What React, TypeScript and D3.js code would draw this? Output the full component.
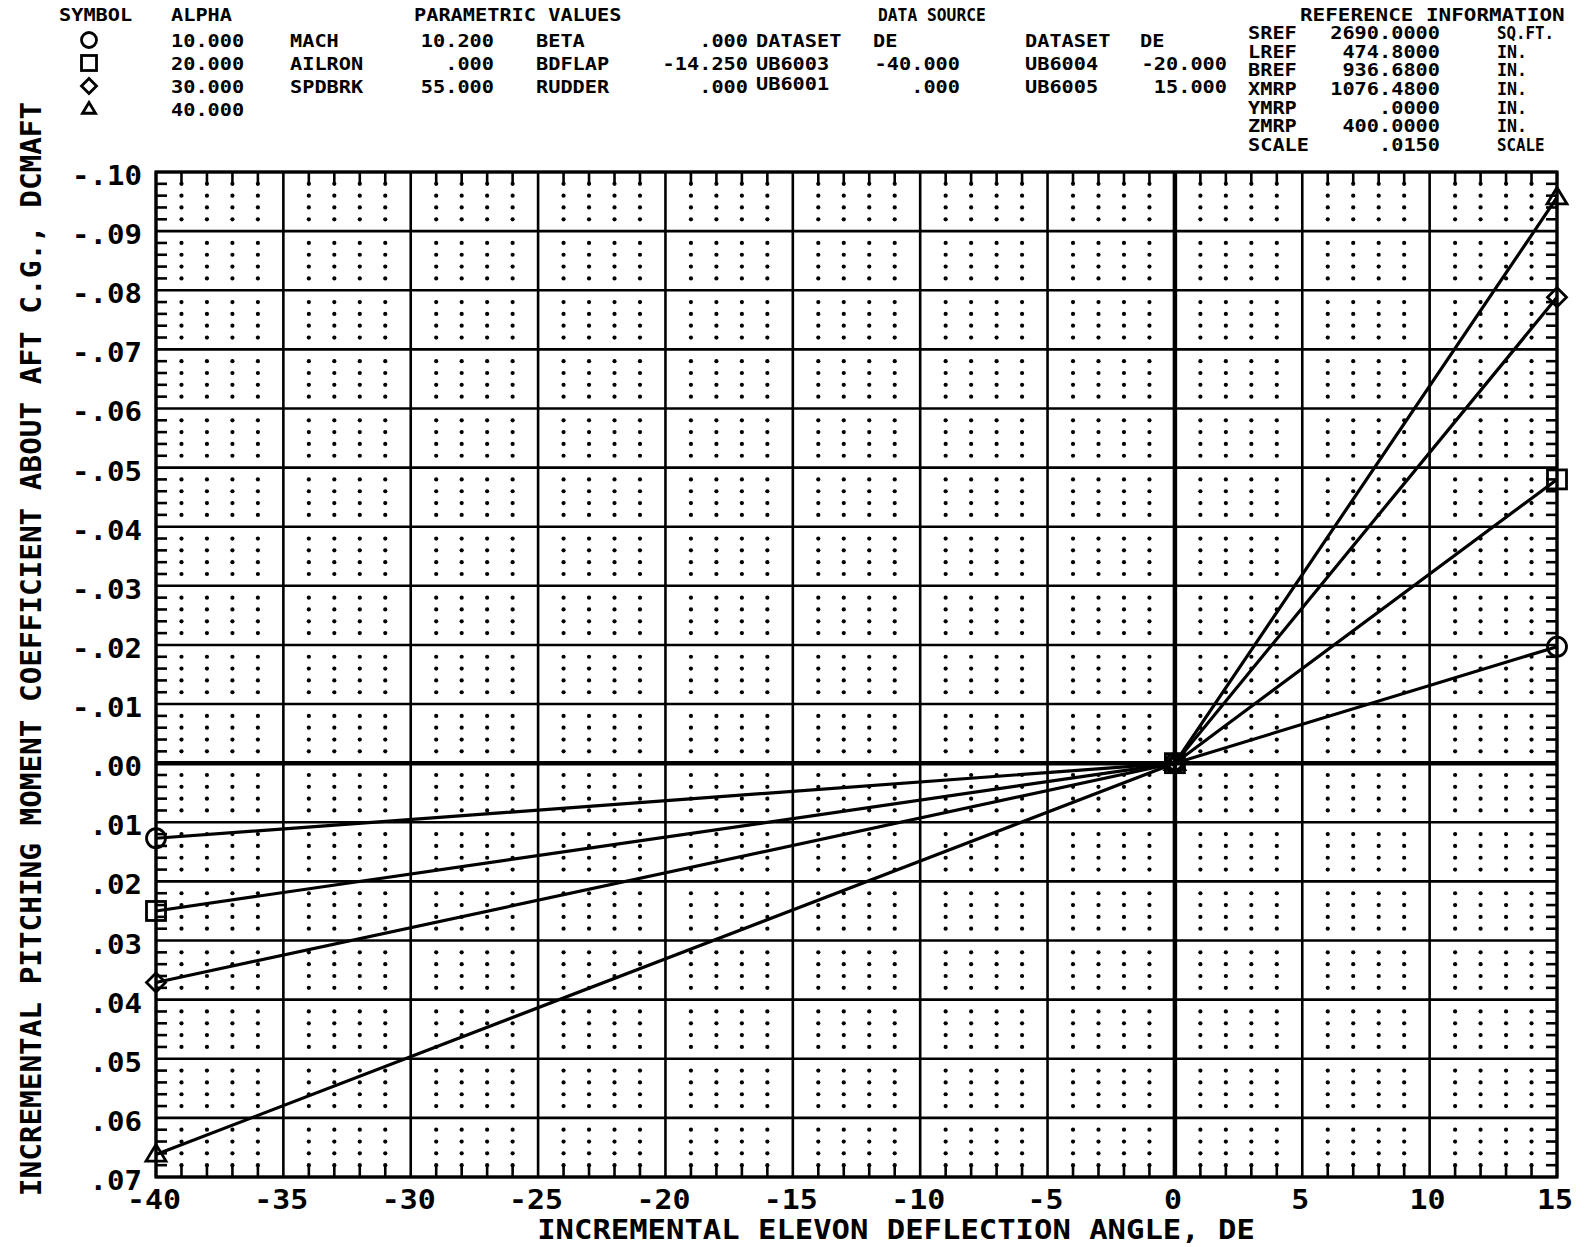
import * as d3 from "d3"

// elevon deflection (deg) at which data points were plotted
const deflection = [-40, 0, 15]

// incremental pitching moment coefficient per alpha
const dcmAlpha10 = [0.0127, 0, -0.0197]
const dcmAlpha20 = [0.025, 0, -0.048]
const dcmAlpha30 = [0.0371, 0, -0.0788]
const dcmAlpha40 = [0.0662, 0, -0.0957]

const seriesValues = [dcmAlpha10, dcmAlpha20, dcmAlpha30, dcmAlpha40]
const seriesSymbols = ["circle", "square", "diamond", "triangle"]
const alphaLabels = ["10.000", "20.000", "30.000", "40.000"]

const xTicks = [-40, -35, -30, -25, -20, -15, -10, -5, 0, 5, 10, 15]
const xTickLabels = ["-40", "-35", "-30", "-25", "-20", "-15", "-10", "-5", "0", "5", "10", "15"]
const yTicks = [-0.1, -0.09, -0.08, -0.07, -0.06, -0.05, -0.04, -0.03, -0.02, -0.01, 0, 0.01, 0.02, 0.03, 0.04, 0.05, 0.06, 0.07]
const yTickLabels = ["-.10", "-.09", "-.08", "-.07", "-.06", "-.05", "-.04", "-.03", "-.02", "-.01", ".00", ".01", ".02", ".03", ".04", ".05", ".06", ".07"]

const paramNames1 = ["MACH", "AILRON", "SPDBRK"]
const paramValues1 = ["10.200", ".000", "55.000"]
const paramNames2 = ["BETA", "BDFLAP", "RUDDER"]
const paramValues2 = [".000", "-14.250", ".000"]
const datasetsA = ["UB6003", "UB6001"]
const datasetDeA = ["-40.000", ".000"]
const datasetsB = ["UB6004", "UB6005"]
const datasetDeB = ["-20.000", "15.000"]
const refNames = ["SREF", "LREF", "BREF", "XMRP", "YMRP", "ZMRP", "SCALE"]
const refValues = ["2690.0000", "474.8000", "936.6800", "1076.4800", ".0000", "400.0000", ".0150"]
const refUnits = ["SQ.FT.", "IN.", "IN.", "IN.", "IN.", "IN.", "SCALE"]

const W = 1596
const H = 1247
const left = 156
const right = 1557
const top = 172
const bottom = 1177
const FONT = "DejaVu Sans Mono"

const x = d3.scaleLinear().domain([-40, 15]).range([left, right])
const y = d3.scaleLinear().domain([-0.1, 0.07]).range([top, bottom])

const minorX = d3.range(-40, 15.001, 1).filter(v => Math.abs(v % 5) > 0.01)
const minorY = d3.range(0, 86).map(i => -0.1 + i * 0.002).filter((_, i) => i % 5 !== 0)

function Txt({ x, y, s, w, size = 17, anchor = "start", weight = "bold" }: any) {
  return (
    <text
      x={x}
      y={y}
      textAnchor={anchor}
      fontFamily={FONT}
      fontWeight={weight}
      fontSize={size}
      textLength={w * s.length}
      lengthAdjust="spacingAndGlyphs"
    >
      {s}
    </text>
  )
}

function Marker({ kind, cx, cy, r }: { kind: string; cx: number; cy: number; r: number }) {
  const common = { fill: "none", stroke: "#000", strokeWidth: 2.8 }
  if (kind === "circle") return <circle cx={cx} cy={cy} r={r} {...common} />
  if (kind === "square") return <rect x={cx - r} y={cy - r} width={2 * r} height={2 * r} {...common} />
  if (kind === "diamond")
    return <path d={`M${cx},${cy - r}L${cx + r},${cy}L${cx},${cy + r}L${cx - r},${cy}Z`} {...common} />
  return <path d={`M${cx},${cy - r}L${cx + r},${cy + r * 0.65}L${cx - r},${cy + r * 0.65}Z`} {...common} />
}

export default function App() {
  const line = d3.line<number>().x((_, i) => x(deflection[i])).y(d => y(d))
  const cw = 12.2
  const rowY = [47, 70, 93, 116]
  const refY = [39, 58, 76, 95, 114, 132, 151]

  return (
    <div style={{ position: "absolute", left: 0, top: 0, background: "#fff" }}>
      <svg width={W} height={H} style={{ display: "block" }}>
        <rect width={W} height={H} fill="#fff" />

        {/* header block */}
        <Txt x={59} y={21} s="SYMBOL" w={cw} />
        <Txt x={171} y={21} s="ALPHA" w={cw} />
        <Txt x={414} y={21} s="PARAMETRIC VALUES" w={cw} />
        <Txt x={878} y={21} s="DATA SOURCE" w={9.8} />
        <Txt x={1300} y={21} s="REFERENCE INFORMATION" w={12.6} />
        {seriesSymbols.map((k, i) => (
          <Marker key={k} kind={k} cx={89} cy={rowY[i] - 7} r={k === "triangle" ? 6.5 : 7.5} />
        ))}
        {alphaLabels.map((a, i) => (
          <Txt key={a} x={171} y={rowY[i]} s={a} w={cw} />
        ))}
        {paramNames1.map((p, i) => (
          <Txt key={p} x={290} y={rowY[i]} s={p} w={cw} />
        ))}
        {paramValues1.map((p, i) => (
          <Txt key={i} x={494} y={rowY[i]} s={p} w={cw} anchor="end" />
        ))}
        {paramNames2.map((p, i) => (
          <Txt key={p} x={536} y={rowY[i]} s={p} w={cw} />
        ))}
        {paramValues2.map((p, i) => (
          <Txt key={i} x={748} y={rowY[i]} s={p} w={cw} anchor="end" />
        ))}
        <Txt x={756} y={rowY[0]} s="DATASET" w={cw} />
        <Txt x={873} y={rowY[0]} s="DE" w={cw} />
        <Txt x={1025} y={rowY[0]} s="DATASET" w={cw} />
        <Txt x={1140} y={rowY[0]} s="DE" w={cw} />
        {datasetsA.map((d, i) => (
          <Txt key={d} x={756} y={rowY[i + 1] - (i === 1 ? 3 : 0)} s={d} w={cw} />
        ))}
        {datasetDeA.map((d, i) => (
          <Txt key={i} x={960} y={rowY[i + 1]} s={d} w={cw} anchor="end" />
        ))}
        {datasetsB.map((d, i) => (
          <Txt key={d} x={1025} y={rowY[i + 1]} s={d} w={cw} />
        ))}
        {datasetDeB.map((d, i) => (
          <Txt key={i} x={1227} y={rowY[i + 1]} s={d} w={cw} anchor="end" />
        ))}
        {refNames.map((n, i) => (
          <Txt key={n} x={1248} y={refY[i]} s={n} w={cw} />
        ))}
        {refValues.map((v, i) => (
          <Txt key={i} x={1440} y={refY[i]} s={v} w={cw} anchor="end" />
        ))}
        {refUnits.map((u, i) => (
          <Txt key={i} x={1497} y={refY[i]} s={u} w={u === "IN." ? 10 : 9.5} />
        ))}

        {/* dotted minor grid */}
        {minorX.map(dx =>
          minorY.map(dy => <circle key={`${dx}_${dy}`} cx={x(dx)} cy={y(dy)} r={2.1} fill="#000" />)
        )}

        {/* major grid */}
        {xTicks.map(t => (
          <line key={`v${t}`} x1={x(t)} x2={x(t)} y1={top} y2={bottom} stroke="#000" strokeWidth={t === 0 ? 4.5 : 2.6} />
        ))}
        {yTicks.map(t => (
          <line key={`h${t}`} x1={left} x2={right} y1={y(t)} y2={y(t)} stroke="#000" strokeWidth={Math.abs(t) < 1e-9 ? 4.5 : 2.6} />
        ))}

        {/* edge ticks */}
        {minorX.map(t => (
          <g key={`tx${t}`} stroke="#000" strokeWidth={2.6}>
            <line x1={x(t)} x2={x(t)} y1={top} y2={top + 12} />
            <line x1={x(t)} x2={x(t)} y1={bottom} y2={bottom - 11} />
          </g>
        ))}
        {minorY.map(t => (
          <g key={`ty${t}`} stroke="#000" strokeWidth={2.6}>
            <line x1={left} x2={left + 11} y1={y(t)} y2={y(t)} />
            <line x1={right} x2={right - 11} y1={y(t)} y2={y(t)} />
          </g>
        ))}
        <rect x={left} y={top} width={right - left} height={bottom - top} fill="none" stroke="#000" strokeWidth={3.2} />

        {/* data */}
        {seriesValues.map((vals, si) => (
          <g key={si}>
            <path d={line(vals) ?? ""} fill="none" stroke="#000" strokeWidth={3.2} />
            {vals.map((v, i) => (
              <Marker key={i} kind={seriesSymbols[si]} cx={x(deflection[i])} cy={y(v)} r={seriesSymbols[si] === "triangle" ? 10 : 9.5} />
            ))}
          </g>
        ))}

        {/* tick labels */}
        {yTicks.map((t, i) => (
          <Txt key={`yl${t}`} x={142} y={y(t) + 13} s={yTickLabels[i]} w={17.5} size={27} anchor="end" />
        ))}
        {xTicks.map((t, i) => (
          <Txt key={`xl${t}`} x={x(t) - 2} y={1209} s={xTickLabels[i]} w={18} size={27} anchor="middle" />
        ))}

        {/* axis titles */}
        <Txt x={896} y={1239} s="INCREMENTAL ELEVON DEFLECTION ANGLE, DE" w={18.4} size={27} anchor="middle" />
        <g transform="translate(41,649) rotate(-90)">
          <Txt
            x={0}
            y={0}
            s="INCREMENTAL PITCHING MOMENT COEFFICIENT ABOUT AFT C.G., DCMAFT"
            w={17.65}
            size={28}
            anchor="middle"
          />
        </g>
      </svg>
    </div>
  )
}
